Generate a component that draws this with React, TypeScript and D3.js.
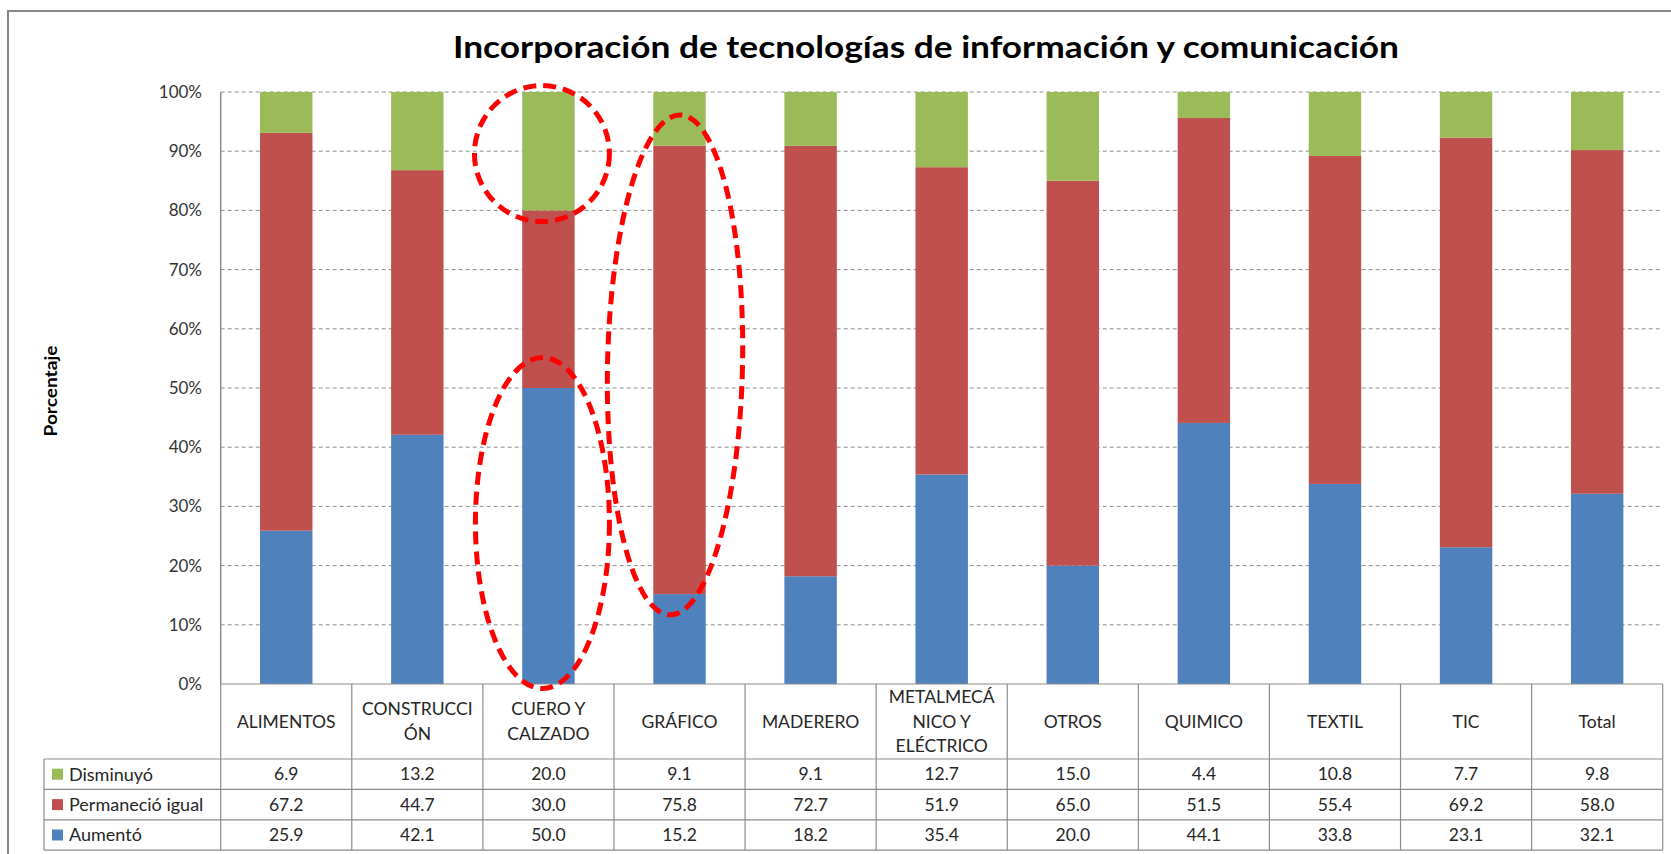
import * as d3 from 'd3'

// Incorporación de TIC por sector (porcentajes)
const categories = ['ALIMENTOS', 'CONSTRUCCIÓN', 'CUERO Y CALZADO', 'GRÁFICO', 'MADERERO', 'METALMECÁNICO Y ELÉCTRICO', 'OTROS', 'QUIMICO', 'TEXTIL', 'TIC', 'Total']
const categoryLines = [
  ['ALIMENTOS'],
  ['CONSTRUCCI', 'ÓN'],
  ['CUERO Y', 'CALZADO'],
  ['GRÁFICO'],
  ['MADERERO'],
  ['METALMECÁ', 'NICO Y', 'ELÉCTRICO'],
  ['OTROS'],
  ['QUIMICO'],
  ['TEXTIL'],
  ['TIC'],
  ['Total'],
]
const aumento = [25.9, 42.1, 50.0, 15.2, 18.2, 35.4, 20.0, 44.1, 33.8, 23.1, 32.1]
const permanecio = [67.2, 44.7, 30.0, 75.8, 72.7, 51.9, 65.0, 51.5, 55.4, 69.2, 58.0]
const disminuyo = [6.9, 13.2, 20.0, 9.1, 9.1, 12.7, 15.0, 4.4, 10.8, 7.7, 9.8]

const seriesKeys = ['Aumentó', 'Permaneció igual', 'Disminuyó']
const seriesColors = ['#4F81BD', '#C0504D', '#9BBB59']
// table rows are listed top to bottom
const tableRows = [
  { name: 'Disminuyó', values: disminuyo, color: '#9BBB59' },
  { name: 'Permaneció igual', values: permanecio, color: '#C0504D' },
  { name: 'Aumentó', values: aumento, color: '#4F81BD' },
]

const W = 1671
const H = 854
const FONT = 'Lato, "Open Sans", sans-serif'
const GRID = '#8c8c8c'
const TXT = 17.5

export default function App() {
  const left = 220.7
  const right = 1662.7
  const top = 92
  const bottom = 684
  const tableTop = bottom
  const headerBottom = 759
  const rowH = 30.4
  const legendLeft = 44

  const rows = categories.map((c, i) => ({
    cat: c,
    'Aumentó': aumento[i],
    'Permaneció igual': permanecio[i],
    'Disminuyó': disminuyo[i],
  }))

  const stacked = d3.stack<any>().keys(seriesKeys).offset(d3.stackOffsetExpand)(rows)

  const x = d3.scaleBand().domain(categories).range([left, right]).paddingInner(0.6).paddingOuter(0.3)
  const y = d3.scaleLinear().domain([0, 1]).range([bottom, top])
  const step = x.step()
  const colLeft = (c: string) => (x(c) as number) - (step * 0.6) / 2
  const colCenter = (c: string) => (x(c) as number) + x.bandwidth() / 2

  const ticks = y.ticks(10)
  const fmt = d3.format('.0%')

  const rowTops = tableRows.map((_, i) => headerBottom + i * rowH)
  const tableBottom = headerBottom + tableRows.length * rowH

  // annotation ellipses (red dashed), placed against the bars
  const cuero = colCenter('CUERO Y CALZADO')
  const grafico = colCenter('GRÁFICO')
  const ellipses = [
    { cx: cuero - 6.5, cy: y(0.896), rx: 67.5, ry: 68, rot: 0 },
    { cx: cuero - 6, cy: y(0.272), rx: 67, ry: 165.5, rot: 0 },
    { cx: grafico - 4.5, cy: y(0.539), rx: 67.5, ry: 250, rot: 1.2 },
  ]

  return (
    <div style={{ position: 'absolute', left: 0, top: 0 }}>
      <svg width={W} height={H} style={{ display: 'block', background: '#fff' }} fontFamily={FONT}>
        <rect x={8} y={11} width={1700} height={900} fill='#fff' stroke='#868686' strokeWidth={2} />

        <text x={926} y={58} textAnchor='middle' fontSize={31} fontWeight={700} fill='#000'
          textLength={946} lengthAdjust='spacingAndGlyphs'>
          Incorporación de tecnologías de información y comunicación
        </text>

        {/* gridlines */}
        {ticks.filter(t => t > 0).map(t => (
          <line key={t} x1={left} x2={right} y1={y(t)} y2={y(t)} stroke={GRID} strokeDasharray='4,3' strokeWidth={1} />
        ))}

        {/* y tick labels */}
        {ticks.map(t => (
          <text key={t} x={202} y={y(t)} dy='0.35em' textAnchor='end' fontSize={17} fill='#333'>{fmt(t)}</text>
        ))}

        <text transform={`translate(51,391) rotate(-90)`} textAnchor='middle' dy='0.35em' fontSize={16.5} fontWeight={700}
          fill='#000' textLength={91} lengthAdjust='spacingAndGlyphs'>Porcentaje</text>

        {/* bars */}
        {stacked.map((s, si) => (
          <g key={s.key} fill={seriesColors[si]}>
            {s.map((d, i) => (
              <rect key={categories[i]} x={x(categories[i])} y={y(d[1])} width={x.bandwidth()}
                height={y(d[0]) - y(d[1])} />
            ))}
          </g>
        ))}

        {/* y axis line */}
        <line x1={left} x2={left} y1={top} y2={bottom} stroke={GRID} strokeWidth={1.5} />

        {/* data table */}
        <g stroke={GRID} strokeWidth={1.2}>
          <line x1={left} x2={right} y1={tableTop} y2={tableTop} />
          {rowTops.map(r => <line key={r} x1={legendLeft} x2={right} y1={r} y2={r} />)}
          <line x1={legendLeft} x2={right} y1={tableBottom} y2={tableBottom} />
          <line x1={legendLeft} x2={legendLeft} y1={headerBottom} y2={tableBottom} />
          <line x1={left} x2={left} y1={tableTop} y2={tableBottom} />
          {categories.map(c => (
            <line key={c} x1={colLeft(c) + step} x2={colLeft(c) + step} y1={tableTop} y2={tableBottom} />
          ))}
        </g>

        {categories.map((c, i) => {
          const lines = categoryLines[i]
          const lh = 24.5
          const cy = (tableTop + headerBottom) / 2
          return (
            <text key={c} textAnchor='middle' fontSize={TXT} fill='#262626'>
              {lines.map((l, li) => (
                <tspan key={li} x={colCenter(c)} y={cy + (li - (lines.length - 1) / 2) * lh} dy='0.35em'>{l}</tspan>
              ))}
            </text>
          )
        })}

        {tableRows.map((r, ri) => {
          const cy = rowTops[ri] + rowH / 2
          return (
            <g key={r.name}>
              <rect x={52} y={cy - 5.5} width={11} height={11} fill={r.color} />
              <text x={69} y={cy} dy='0.35em' fontSize={TXT + 0.5} fill='#262626'>{r.name}</text>
              {r.values.map((v, i) => (
                <text key={i} x={colCenter(categories[i])} y={cy} dy='0.35em' textAnchor='middle' fontSize={TXT}
                  fill='#262626'>{v.toFixed(1)}</text>
              ))}
            </g>
          )
        })}

        {/* annotations */}
        {ellipses.map((e, i) => (
          <ellipse key={i} cx={e.cx} cy={e.cy} rx={e.rx} ry={e.ry} fill='none' stroke='#ff0000' strokeWidth={5}
            strokeDasharray='13,7' transform={`rotate(${e.rot},${e.cx},${e.cy})`} />
        ))}
      </svg>
    </div>
  )
}
